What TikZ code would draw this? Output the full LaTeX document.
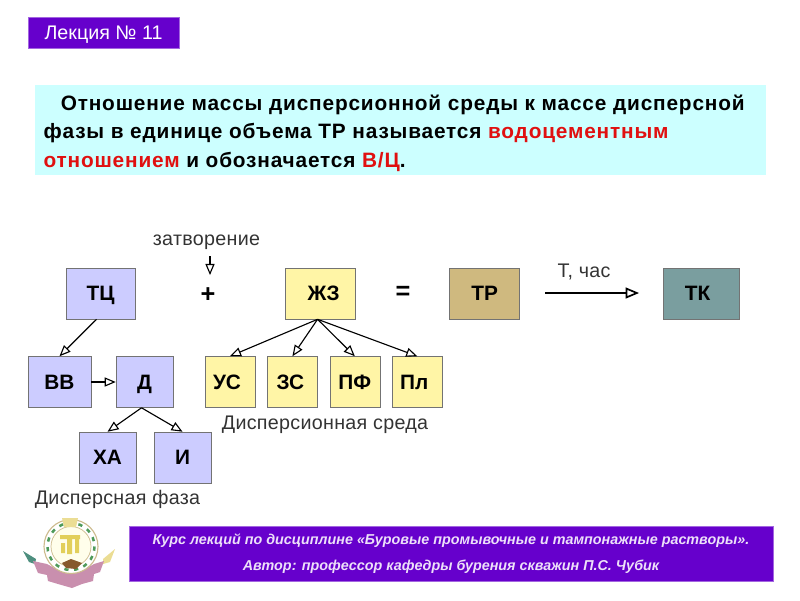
\documentclass[tikz,border=0pt]{standalone}
\usepackage{fontspec}
\setmainfont{Liberation Sans}
\usetikzlibrary{arrows}
\definecolor{violetbox}{HTML}{6600CC}
\definecolor{cyanbox}{HTML}{CCFFFF}
\definecolor{bluebox}{HTML}{CCCCFF}
\definecolor{yellowbox}{HTML}{FFF5A6}
\definecolor{sandbox}{HTML}{CFB97F}
\definecolor{tealbox}{HTML}{7A9E9F}
\definecolor{redword}{HTML}{E01010}
\definecolor{labelgray}{HTML}{333333}
\definecolor{ribbon}{HTML}{C98FAE}
\definecolor{emblemtan}{HTML}{CDBB8E}
\definecolor{emblemgold}{HTML}{E2CF5A}
\definecolor{emblemgreen}{HTML}{4E9A5A}
\definecolor{emblemteal}{HTML}{4E8F7F}
\definecolor{emblemsand}{HTML}{EBDD94}
\begin{document}
\begin{tikzpicture}[
            x = 0.025cm, y = -0.025cm, % reference pixels
            > = open triangle 45, % arrow head style
            line width = 0.8pt % line style
        ]

        \tikzstyle{block}=[
            draw = black!55,
            thin,
            minimum height = 1.275cm,
            font = \fontsize{14.8}{16}\selectfont\bfseries,
            text depth = 0pt,
            inner sep = 0pt
        ]
        \tikzstyle{binder}=[block, fill = bluebox]
        \tikzstyle{water}=[block, fill = yellowbox]
        \tikzstyle{banner}=[fill = violetbox, draw = violetbox!60, line width = 0.3pt, inner sep = 0pt]
        \tikzstyle{caption}=[text = labelgray, font = \fontsize{14}{15}\selectfont\addfontfeature{LetterSpace=1.5}]
        \tikzstyle{sign}=[font = \fontsize{18}{20}\selectfont\bfseries]

        \useasboundingbox (0,0) rectangle (800,600);

        % header
        \node[banner, minimum width = 3.775cm, minimum height = 0.775cm, text = white, text depth = 0pt,
            font = \fontsize{14}{15}\selectfont] (lecture) at (103.5,32.5) {Лекция № 11};
        \node[fill = cyanbox, minimum width = 18.275cm, minimum height = 2.25cm,
            inner sep = 0pt] (defbox) at (400.5,130) {};
        \node[anchor = west, align = left, inner sep = 0pt,
            font = \fontsize{14.8}{20.2}\selectfont\bfseries\addfontfeature{LetterSpace=4}] (deftext) at (43,133)
            {\hspace*{0.43cm}Отношение массы дисперсионной среды к массе дисперсной\\
            фазы в единице объема ТР называется {\color{redword}водоцементным}\\
            {\color{redword}отношением} и обозначается {\color{redword}В/Ц}.};

        % top row
        \node[binder, minimum width = 1.725cm] (tc) at (100.5,293.5) {ТЦ};
        \node[water, minimum width = 1.75cm] (zhz) [right of = tc, node distance = 5.5cm] {\hspace*{0.15cm}ЖЗ};
        \node[block, fill = sandbox, minimum width = 1.75cm] (tr) [right of = zhz, node distance = 4.1cm] {ТР};
        \node[block, fill = tealbox, minimum width = 1.9cm] (tk) [right of = tr, node distance = 5.425cm] {\hspace*{-0.2cm}ТК};
        \node[sign] (plus) at (208,295) {+};
        \node[sign] (equal) at (403,293) {=};

        % binder side
        \node[binder, minimum width = 1.575cm] (vv) at (59.5,382) {ВВ};
        \node[binder, minimum width = 1.425cm] (d) [right of = vv, node distance = 2.125cm] {Д};
        \node[binder, minimum width = 1.425cm] (xa) at (107.5,457.5) {ХА};
        \node[binder, minimum width = 1.425cm] (i) [right of = xa, node distance = 1.875cm] {И};

        % water side
        \node[water, minimum width = 1.25cm] (us) at (230,382) {\hspace*{-0.15cm}УС};
        \node[water, minimum width = 1.25cm] (zs) [right of = us, node distance = 1.56cm] {\hspace*{-0.1cm}ЗС};
        \node[water, minimum width = 1.25cm] (pf) [right of = zs, node distance = 1.56cm] {ПФ};
        \node[water, minimum width = 1.25cm] (pl) [right of = pf, node distance = 1.56cm] {\hspace*{-0.15cm}Пл};

        % captions
        \node[caption] (closing) at (206.5,242) {затворение};
        \node[caption] (time) at (584,272) {Т, час};
        \node[caption] (medium) at (325,425) {Дисперсионная среда};
        \node[caption] (phase) at (117.5,499) {Дисперсная фаза};

        \coordinate (closingend) at (210,275);
        \coordinate (closingstart) at (210,256);
        \coordinate (timestart) at (545,293);
        \coordinate (timeend) at (639,293);

        \path[->] (closingstart) edge (closingend);
        \path[->, line width = 1.2pt] (timestart) edge (timeend);
        \path[->] ([xshift=-0.1cm]tc.south) edge (vv.north);
        \path[->] (vv.east) edge (d.west);
        \path[->] ([xshift=-0.075cm]d.south) edge (xa.north);
        \path[->] ([xshift=-0.075cm]d.south) edge (i.north);
        \path[->] ([xshift=-0.075cm]zhz.south) edge (us.north);
        \path[->] ([xshift=-0.075cm]zhz.south) edge (zs.north);
        \path[->] ([xshift=-0.075cm]zhz.south) edge (pf.north);
        \path[->] ([xshift=-0.075cm]zhz.south) edge (pl.north);

        % footer
        \node[banner, minimum width = 16.1cm, minimum height = 1.375cm] (footer) at (451,553.5) {};
        \node[text = white!88!violetbox, align = center,
            font = \fontsize{10.2}{18.5}\selectfont\bfseries\itshape] (course) at (451,554)
            {Курс лекций по дисциплине «Буровые промывочные и тампонажные растворы».\\
            Автор: профессор кафедры бурения скважин П.С. Чубик};

        % emblem
        \fill[emblemteal] (23,551) -- (36,559) -- (35,564) -- (29,562) -- cycle;
        \fill[emblemsand] (115,549) -- (103,559) -- (103,564) -- (110,562) -- cycle;
        \fill[ribbon] (33,561) -- (47,564) -- (60,571) -- (82,571) -- (94,564) -- (104,561) -- (100,572)
            -- (94,574) -- (93,581) -- (82,584) -- (72,588) -- (58,584) -- (48,581) -- (47,575) -- (38,573) -- cycle;
        \draw[emblemtan, line width = 0.8pt, fill = white] (71,546.5) ellipse (27 and 27);
        \draw[emblemgreen, line width = 1.8pt, dash pattern = on 3pt off 4pt] (71,546.5) ellipse (23.5 and 23.5);
        \draw[emblemtan, line width = 0.5pt, fill = white!92!yellow] (71,546.5) ellipse (20 and 20);
        \fill[emblemgold] (60,535) rectangle (80,539) (67,536) rectangle (72,554)
            (61,543) rectangle (65,553) (75,539) rectangle (79,553);
        \fill[brown!70!black] (62,563) -- (71,559) -- (82,563) -- (76,569) -- (66,568) -- cycle;
        \fill[emblemsand] (62,518) -- (78,518) -- (76,527) -- (64,527) -- cycle;

\end{tikzpicture}
\end{document}
